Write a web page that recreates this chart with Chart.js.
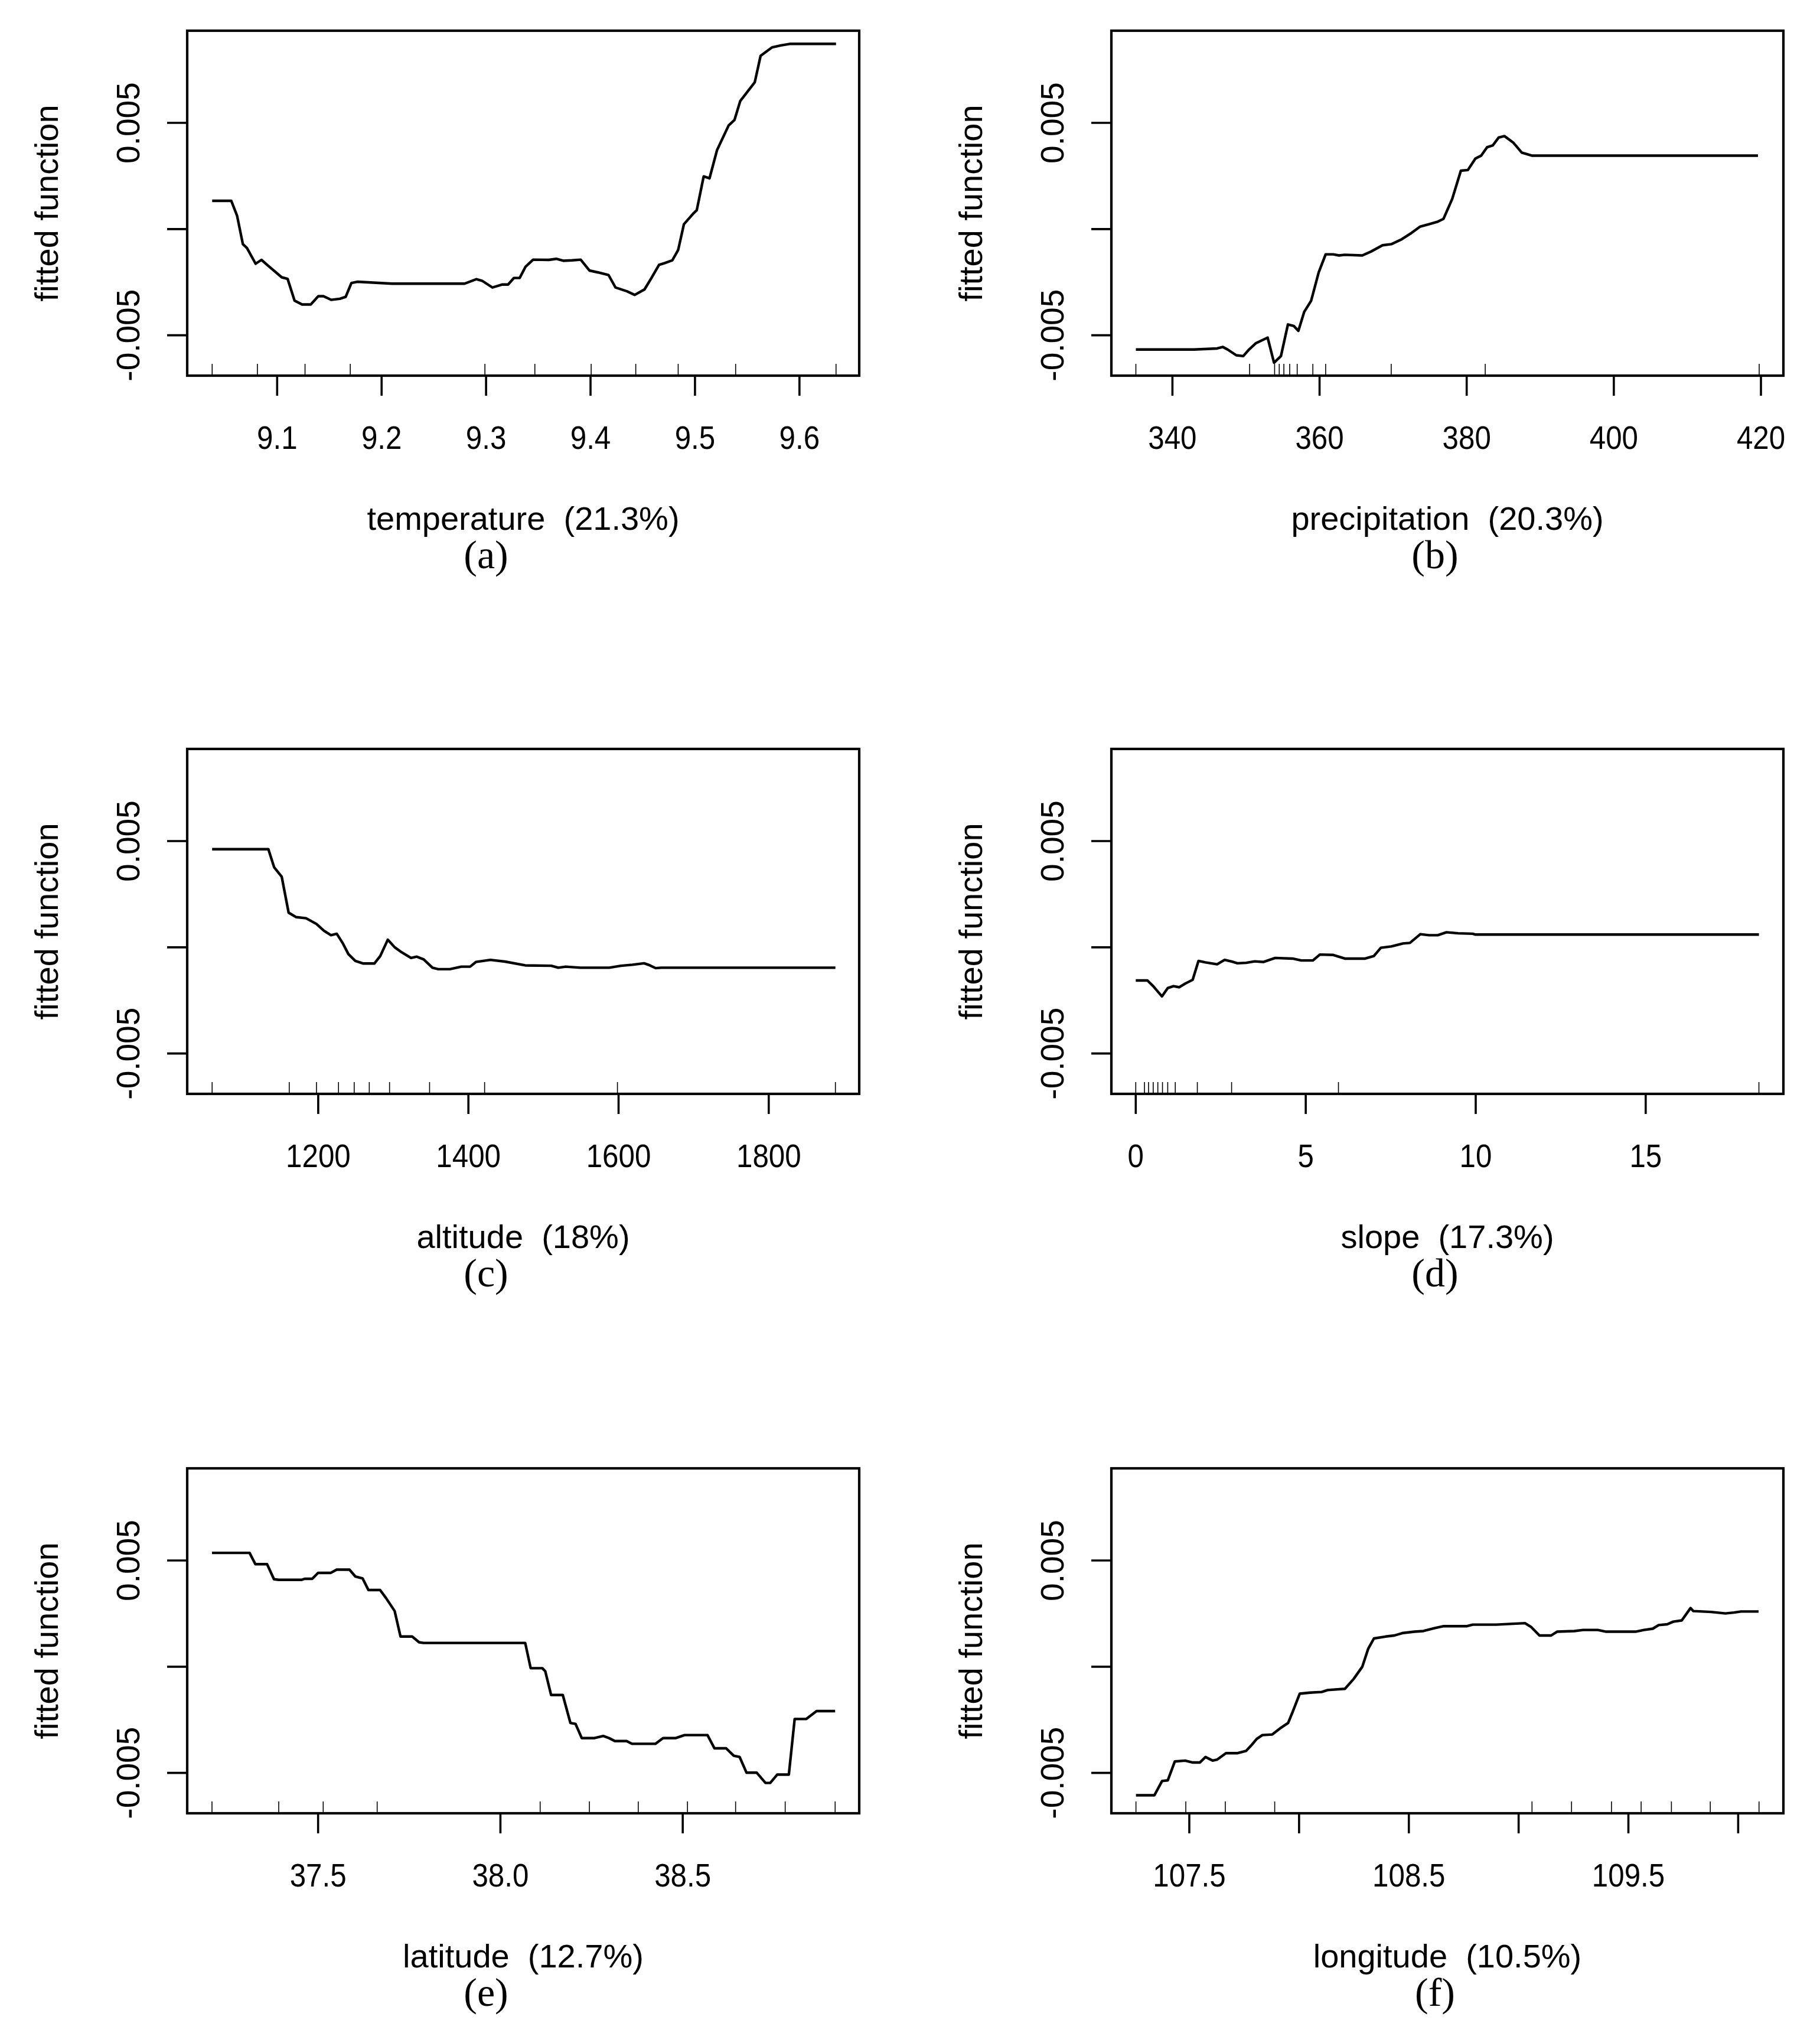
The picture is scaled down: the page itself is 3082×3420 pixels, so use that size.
<!DOCTYPE html>
<html><head><meta charset="utf-8">
<script src="https://cdn.jsdelivr.net/npm/chart.js@4/dist/chart.umd.min.js"></script>
<style>
html,body{margin:0;padding:0;background:#fff;width:3082px;height:3420px;overflow:hidden;}
canvas{position:absolute;}
</style></head><body>
<script>
// ---- data ----
const yTicks = [-0.005, 0, 0.005];
const yTickLabels = ["-0.005", "", "0.005"];
const yTitle = "fitted function";

const tempX = [9.0378,9.0561,9.0617,9.0672,9.0711,9.0794,9.085,9.0917,9.1044,9.11,9.1167,9.1239,9.1322,9.1394,9.1444,9.1517,9.16,9.1656,9.1711,9.1767,9.21,9.2794,9.2906,9.2961,9.3061,9.3156,9.3211,9.3267,9.3322,9.3378,9.345,9.36,9.3672,9.3739,9.3822,9.3906,9.3989,9.4072,9.4172,9.4239,9.435,9.4422,9.4517,9.4583,9.4656,9.4711,9.4783,9.4839,9.4894,9.4989,9.5017,9.5083,9.5139,9.5211,9.5322,9.5378,9.5433,9.5517,9.5572,9.5628,9.5739,9.5822,9.5906,9.635];
const tempY = [0.00133,0.00133,0.00062,-0.00071,-0.00089,-0.00163,-0.00145,-0.00174,-0.00227,-0.00234,-0.00337,-0.00355,-0.00355,-0.00316,-0.00316,-0.00333,-0.00328,-0.00319,-0.00254,-0.00248,-0.00257,-0.00257,-0.00236,-0.00243,-0.00275,-0.00261,-0.00261,-0.00230,-0.00230,-0.00177,-0.00144,-0.00145,-0.00140,-0.00149,-0.00147,-0.00144,-0.00195,-0.00204,-0.00216,-0.00275,-0.00293,-0.00310,-0.00284,-0.00230,-0.00168,-0.00160,-0.00147,-0.00098,0.00023,0.00076,0.00089,0.00248,0.00239,0.00372,0.00488,0.00514,0.00603,0.00656,0.00691,0.00816,0.00856,0.00865,0.00872,0.00872];
const tempRug = [9.0378,9.0811,9.1267,9.17,9.2989,9.3467,9.4006,9.4433,9.4839,9.5389,9.635];
const tempTicks = [9.1,9.2,9.3,9.4,9.5,9.6];
const tempTickLabels = ["9.1","9.2","9.3","9.4","9.5","9.6"];

const precipX = [335.03,342.92,346.07,346.86,347.5,348.68,349.63,350.41,351.36,352.94,353.81,354.75,355.7,356.49,357.12,357.91,358.86,359.88,360.83,361.85,362.64,363.43,365.8,366.98,368.56,369.74,371.16,372.5,373.69,374.87,376.06,376.84,378.03,379.21,380.16,381.18,381.97,382.76,383.55,384.34,385.13,386.31,387.49,388.84,419.6];
const precipY = [-0.00567,-0.00567,-0.00562,-0.00555,-0.00567,-0.00594,-0.00598,-0.00567,-0.00537,-0.00511,-0.00629,-0.00598,-0.00449,-0.00456,-0.00479,-0.00390,-0.00337,-0.00204,-0.00119,-0.00119,-0.00124,-0.00121,-0.00124,-0.00106,-0.00076,-0.00071,-0.00048,-0.00018,0.00012,0.00023,0.00035,0.00048,0.00142,0.00275,0.00278,0.00332,0.00346,0.00385,0.00394,0.00431,0.00438,0.00408,0.00360,0.00346,0.00346];
const precipRug = [335.03,350.49,353.89,354.52,355.15,355.94,356.96,359.09,360.83,369.74,382.52,419.76];
const precipTicks = [340,360,380,400,420];
const precipTickLabels = ["340","360","380","400","420"];

const altX = [1058.7,1133.6,1141.3,1151.4,1160.6,1170.7,1183.8,1197.7,1207.7,1217.0,1224.7,1232.4,1240.2,1249.4,1259.5,1274.9,1282.6,1292.7,1301.9,1309.7,1323.6,1331.3,1340.5,1352.1,1359.8,1375.3,1390.7,1402.3,1410.0,1429.3,1448.6,1475.7,1510.4,1519.7,1529.7,1549.0,1587.6,1603.1,1618.5,1634.0,1641.7,1649.4,1657.1,1888.8];
const altY = [0.00462,0.00462,0.00377,0.00332,0.00163,0.00142,0.00137,0.00110,0.00078,0.00057,0.00064,0.00021,-0.00032,-0.00064,-0.00076,-0.00076,-0.00041,0.00036,0.00000,-0.00020,-0.00050,-0.00044,-0.00057,-0.00096,-0.00103,-0.00103,-0.00091,-0.00091,-0.00069,-0.00059,-0.00067,-0.00085,-0.00087,-0.00096,-0.00091,-0.00096,-0.00096,-0.00087,-0.00082,-0.00075,-0.00085,-0.00098,-0.00096,-0.00096];
const altRug = [1058.7,1161.4,1197.7,1227.0,1247.9,1268.0,1295.0,1348.3,1421.6,1598.5,1888.8];
const altTicks = [1200,1400,1600,1800];
const altTickLabels = ["1200","1400","1600","1800"];

const slopeX = [0,0.342,0.513,0.769,0.940,1.110,1.281,1.452,1.674,1.845,2.050,2.392,2.614,2.819,2.990,3.246,3.502,3.758,4.100,4.613,4.869,5.211,5.416,5.809,6.150,6.748,7.004,7.209,7.517,7.859,8.064,8.371,8.627,8.884,9.140,9.482,9.909,9.994,18.331];
const slopeY = [-0.00156,-0.00156,-0.00183,-0.00231,-0.00192,-0.00183,-0.00188,-0.00171,-0.00153,-0.00064,-0.00071,-0.00080,-0.00059,-0.00067,-0.00075,-0.00073,-0.00066,-0.00069,-0.00050,-0.00053,-0.00062,-0.00062,-0.00034,-0.00036,-0.00053,-0.00053,-0.00041,-0.00002,0.00004,0.00018,0.00021,0.00062,0.00057,0.00057,0.00071,0.00066,0.00064,0.00060,0.00060];
const slopeRug = [0,0.256,0.376,0.513,0.649,0.786,0.940,1.162,1.811,2.819,5.962,18.33];
const slopeTicks = [0,5,10,15];
const slopeTickLabels = ["0","5","10","15"];

const latX = [37.209,37.312,37.328,37.360,37.379,37.392,37.455,37.463,37.484,37.5,37.535,37.551,37.586,37.602,37.622,37.638,37.670,37.686,37.710,37.726,37.758,37.777,37.789,38.068,38.083,38.115,38.123,38.139,38.171,38.192,38.206,38.223,38.258,38.282,38.298,38.314,38.346,38.361,38.425,38.446,38.481,38.505,38.568,38.587,38.619,38.640,38.656,38.675,38.703,38.727,38.740,38.759,38.791,38.807,38.839,38.867,38.918];
const latY = [0.00536,0.00536,0.00483,0.00483,0.00412,0.00409,0.00409,0.00414,0.00414,0.00442,0.00442,0.00457,0.00457,0.00425,0.00416,0.00361,0.00361,0.00324,0.00262,0.00142,0.00142,0.00115,0.00112,0.00112,-0.00007,-0.00007,-0.00021,-0.00133,-0.00133,-0.00265,-0.00269,-0.00336,-0.00336,-0.00326,-0.00336,-0.00350,-0.00350,-0.00363,-0.00363,-0.00336,-0.00336,-0.00322,-0.00322,-0.00384,-0.00384,-0.00419,-0.00425,-0.00499,-0.00499,-0.00547,-0.00547,-0.00508,-0.00508,-0.00246,-0.00246,-0.00209,-0.00209];
const latRug = [37.209,37.392,37.514,37.662,38.109,38.244,38.378,38.513,38.645,38.781,38.918];
const latTicks = [37.5,38.0,38.5];
const latTickLabels = ["37.5","38.0","38.5"];

const lonX = [107.257,107.341,107.376,107.402,107.434,107.481,107.516,107.548,107.574,107.606,107.627,107.667,107.720,107.759,107.786,107.807,107.833,107.878,107.918,107.950,107.971,108.003,108.050,108.103,108.130,108.209,108.249,108.288,108.315,108.341,108.394,108.434,108.474,108.526,108.566,108.619,108.659,108.765,108.791,108.897,109.029,109.056,109.095,109.148,109.175,109.254,109.294,109.360,109.399,109.532,109.571,109.611,109.638,109.677,109.704,109.743,109.783,109.796,109.876,109.942,109.981,110.013,110.093];
const lonY = [-0.00605,-0.00605,-0.00538,-0.00535,-0.00446,-0.00442,-0.00451,-0.00451,-0.00425,-0.00442,-0.00437,-0.00407,-0.00407,-0.00396,-0.00366,-0.00340,-0.00322,-0.00319,-0.00287,-0.00265,-0.00212,-0.00127,-0.00122,-0.00119,-0.00110,-0.00104,-0.00057,0,0.00085,0.00133,0.00142,0.00147,0.00159,0.00165,0.00168,0.00182,0.00191,0.00191,0.00198,0.00198,0.00205,0.00188,0.00147,0.00147,0.00165,0.00168,0.00173,0.00173,0.00165,0.00165,0.00173,0.00179,0.00196,0.00200,0.00212,0.00218,0.00276,0.00262,0.00258,0.00251,0.00255,0.00260,0.00260];
const lonRug = [107.257,107.484,107.664,107.889,109.061,109.241,109.423,109.558,109.696,109.873,110.095];
const lonTicks = [107.5,108,108.5,109,109.5,110];
const lonTickLabels = ["107.5","","108.5","","109.5",""];

const xTitles = ["temperature  (21.3%)","precipitation  (20.3%)","altitude  (18%)","slope  (17.3%)","latitude  (12.7%)","longitude  (10.5%)"];
const panelLetters = ["(a)","(b)","(c)","(d)","(e)","(f)"];
const xRanges = [[9.0139,9.6572],[331.7,423.05],[1025.5,1920.5],[-0.7175,19.05],[37.141,38.984],[107.145,110.206]];
const yRange = [-0.0069, 0.00934];

// ---- layout ----
const cols = [{left:0, w:1541, padL:317, padR:86, letterX:823},
              {left:1541, w:1541, padL:341, padR:62, letterX:889}];
const rows = [{top:0, h:1000},{top:1216, h:1000},{top:2434, h:986}];
const BOX_TOP = 52, BOX_H = 584;

const panels = [
  {x:tempX, y:tempY, rug:tempRug, ticks:tempTicks, labels:tempTickLabels},
  {x:precipX, y:precipY, rug:precipRug, ticks:precipTicks, labels:precipTickLabels},
  {x:altX, y:altY, rug:altRug, ticks:altTicks, labels:altTickLabels},
  {x:slopeX, y:slopeY, rug:slopeRug, ticks:slopeTicks, labels:slopeTickLabels},
  {x:latX, y:latY, rug:latRug, ticks:latTicks, labels:latTickLabels},
  {x:lonX, y:lonY, rug:lonRug, ticks:lonTicks, labels:lonTickLabels}
];

const decor = {
  id: 'decor',
  afterDraw(chart, args, o) {
    const ctx = chart.ctx, a = chart.chartArea;
    const xs = chart.scales.x, ys = chart.scales.y;
    ctx.save();
    ctx.strokeStyle = '#000'; ctx.fillStyle = '#000';
    ctx.lineCap = 'butt';
    // box
    ctx.lineWidth = 4.2;
    ctx.strokeRect(a.left, a.top, a.right - a.left, a.bottom - a.top);
    // x major ticks + labels
    ctx.lineWidth = 3.6;
    ctx.font = '56px "Liberation Sans", Arial, sans-serif';
    ctx.textAlign = 'center'; ctx.textBaseline = 'alphabetic';
    o.ticks.forEach((t, i) => {
      const px = xs.getPixelForValue(t);
      ctx.beginPath(); ctx.moveTo(px, a.bottom); ctx.lineTo(px, a.bottom + 34); ctx.stroke();
      if (o.labels[i]) {
        ctx.save(); ctx.translate(px, a.bottom + 124); ctx.scale(0.88, 1);
        ctx.fillText(o.labels[i], 0, 0); ctx.restore();
      }
    });
    // y ticks + rotated labels
    ctx.font = '55px "Liberation Sans", Arial, sans-serif';
    yTicks.forEach((t, i) => {
      const py = ys.getPixelForValue(t);
      ctx.beginPath(); ctx.moveTo(a.left, py); ctx.lineTo(a.left - 34, py); ctx.stroke();
      if (yTickLabels[i]) {
        ctx.save(); ctx.translate(a.left - 81, py); ctx.rotate(-Math.PI / 2);
        ctx.fillText(yTickLabels[i], 0, 0); ctx.restore();
      }
    });
    // rug
    ctx.lineWidth = 1.6;
    o.rug.forEach(r => {
      const px = xs.getPixelForValue(r);
      ctx.beginPath(); ctx.moveTo(px, a.bottom); ctx.lineTo(px, a.bottom - 20); ctx.stroke();
    });
    // titles
    ctx.font = '56px "Liberation Sans", Arial, sans-serif';
    ctx.fillText(o.xTitle, (a.left + a.right) / 2, a.bottom + 261);
    ctx.save(); ctx.translate(a.left - 219, (a.top + a.bottom) / 2); ctx.rotate(-Math.PI / 2);
    ctx.fillText(yTitle, 0, 0); ctx.restore();
    ctx.font = '68px "Liberation Serif", "Times New Roman", serif';
    ctx.fillText(o.letter, o.letterX, a.bottom + 326);
    ctx.restore();
  }
};

panels.forEach((p, k) => {
  const c = cols[k % 2], r = rows[Math.floor(k / 2)];
  const cv = document.createElement('canvas');
  cv.width = c.w; cv.height = r.h;
  cv.style.left = c.left + 'px'; cv.style.top = r.top + 'px';
  cv.style.width = c.w + 'px'; cv.style.height = r.h + 'px';
  document.body.appendChild(cv);
  const n = Math.min(p.x.length, p.y.length);
  const pts = [];
  for (let i = 0; i < n; i++) pts.push({x: p.x[i], y: p.y[i]});
  new Chart(cv, {
    type: 'line',
    data: { datasets: [{ data: pts, borderColor: '#000', borderWidth: 4.4, pointRadius: 0, tension: 0, fill: false, borderJoinStyle: 'round' }] },
    options: {
      responsive: false, animation: false, devicePixelRatio: 1,
      layout: { padding: { left: c.padL, right: c.padR, top: BOX_TOP, bottom: r.h - BOX_TOP - BOX_H } },
      scales: {
        x: { type: 'linear', display: false, min: xRanges[k][0], max: xRanges[k][1] },
        y: { type: 'linear', display: false, min: yRange[0], max: yRange[1] }
      },
      plugins: {
        legend: { display: false }, tooltip: { enabled: false },
        decor: { ticks: p.ticks, labels: p.labels, rug: p.rug, xTitle: xTitles[k], letter: panelLetters[k], letterX: c.letterX }
      }
    },
    plugins: [decor]
  });
});
</script>
</body></html>
